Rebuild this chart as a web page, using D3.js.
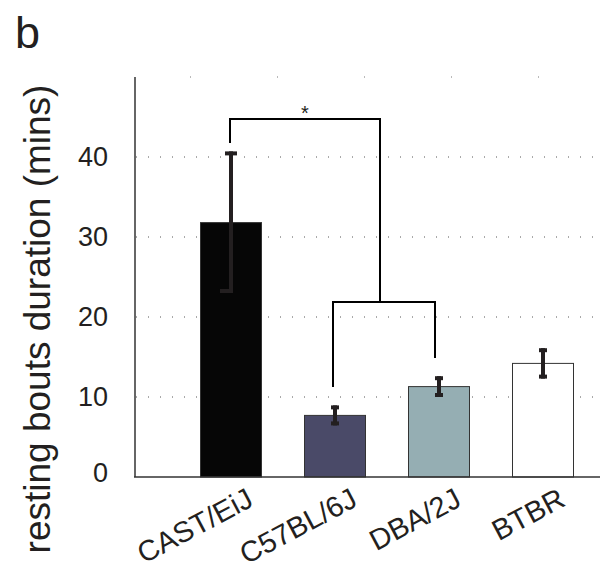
<!DOCTYPE html>
<html>
<head>
<meta charset="utf-8">
<script src="https://d3js.org/d3.v7.min.js"></script>
<style>
  body { margin: 0; background: #fff; }
  text { font-family: "Liberation Sans", Arial, sans-serif; fill: #231f20; }
</style>
</head>
<body>
<div id="chart"></div>
<script>
// data
const strains = ["CAST/EiJ", "C57BL/6J", "DBA/2J", "BTBR"];
const means = [31.8, 7.7, 11.3, 14.2];
const errHigh = [40.7, 8.95, 12.6, 16.1];
const errLow = [23.0, 6.45, 10.0, 12.3];
const barColors = ["#060606", "#4a4a68", "#95aeb3", "#ffffff"];
const yTicks = [0, 10, 20, 30, 40];
const gridTicks = [10, 20, 30, 40];

const W = 609, H = 570;
const svg = d3.select("#chart").append("svg")
    .attr("width", W).attr("height", H);

const x = d3.scalePoint().domain(strains).range([231, 543]);
const y = d3.scaleLinear().domain([0, 50]).range([477, 77]);
const barW = 61;

// panel letter
svg.append("text").attr("x", 15).attr("y", 48)
    .attr("font-size", 45).text("b");

// dotted grid lines
svg.selectAll(".grid").data(gridTicks).enter().append("line")
    .attr("x1", 136).attr("x2", 600)
    .attr("y1", d => y(d)).attr("y2", d => y(d))
    .attr("stroke", "#555").attr("stroke-width", 1)
    .attr("stroke-dasharray", "1,11");
svg.append("line")
    .attr("x1", 190).attr("x2", 600)
    .attr("y1", y(50)).attr("y2", y(50))
    .attr("stroke", "#777").attr("stroke-width", 1)
    .attr("stroke-dasharray", "1,86");

// bars
svg.selectAll(".bar").data(strains).enter().append("rect")
    .attr("x", d => x(d) - barW / 2)
    .attr("y", (d, i) => y(means[i]))
    .attr("width", barW)
    .attr("height", (d, i) => y(0) - y(means[i]))
    .attr("fill", (d, i) => barColors[i])
    .attr("stroke", "#333").attr("stroke-width", 1);

// error bars
const eb = svg.selectAll(".err").data(strains).enter().append("g");
eb.append("line")
    .attr("x1", d => x(d)).attr("x2", d => x(d))
    .attr("y1", (d, i) => y(errHigh[i])).attr("y2", (d, i) => y(errLow[i]))
    .attr("stroke", "#231f20").attr("stroke-width", 4);
eb.append("line")
    .attr("x1", (d, i) => x(d) - (i === 0 ? 6 : 4)).attr("x2", (d, i) => x(d) + (i === 0 ? 6 : 4))
    .attr("y1", (d, i) => y(errHigh[i]) + 2).attr("y2", (d, i) => y(errHigh[i]) + 2)
    .attr("stroke", "#231f20").attr("stroke-width", 4);
eb.append("line")
    .attr("x1", (d, i) => x(d) - (i === 0 ? 11 : 4)).attr("x2", (d, i) => x(d) + (i === 0 ? 1 : 4))
    .attr("y1", (d, i) => y(errLow[i]) - 2).attr("y2", (d, i) => y(errLow[i]) - 2)
    .attr("stroke", "#231f20").attr("stroke-width", 4);

// axes
svg.append("line").attr("x1", 135).attr("x2", 135)
    .attr("y1", 77).attr("y2", y(0))
    .attr("stroke", "#333").attr("stroke-width", 1.5);
svg.append("line").attr("x1", 134).attr("x2", 600)
    .attr("y1", y(0)).attr("y2", y(0))
    .attr("stroke", "#333").attr("stroke-width", 1.5);

svg.selectAll(".ytick").data(yTicks).enter().append("text")
    .attr("x", 108).attr("y", d => y(d) - (d === 0 ? 4 : 0))
    .attr("dy", "0.35em")
    .attr("text-anchor", "end")
    .attr("font-size", 27)
    .text(d => d);

svg.selectAll(".xlab").data(strains).enter().append("text")
    .attr("text-anchor", "end")
    .attr("font-size", 29)
    .attr("transform", d => "translate(" + (x(d) + 24) + ",505) rotate(-28)")
    .text(d => d);

svg.append("text")
    .attr("transform", "translate(50,319) rotate(-90)")
    .attr("text-anchor", "middle")
    .attr("font-size", 37)
    .text("resting bouts duration (mins)");

// significance brackets
const br = d3.line();
svg.append("path")
    .attr("d", br([[x(strains[0]) - 1, 143], [x(strains[0]) - 1, 119], [380, 119], [380, 302]]))
    .attr("fill", "none").attr("stroke", "#000").attr("stroke-width", 2);
svg.append("path")
    .attr("d", br([[333, 387], [333, 302], [435, 302], [435, 358]]))
    .attr("fill", "none").attr("stroke", "#000").attr("stroke-width", 2);
svg.append("text").attr("x", 305).attr("y", 120)
    .attr("text-anchor", "middle").attr("font-size", 20).text("*");
</script>
</body>
</html>
